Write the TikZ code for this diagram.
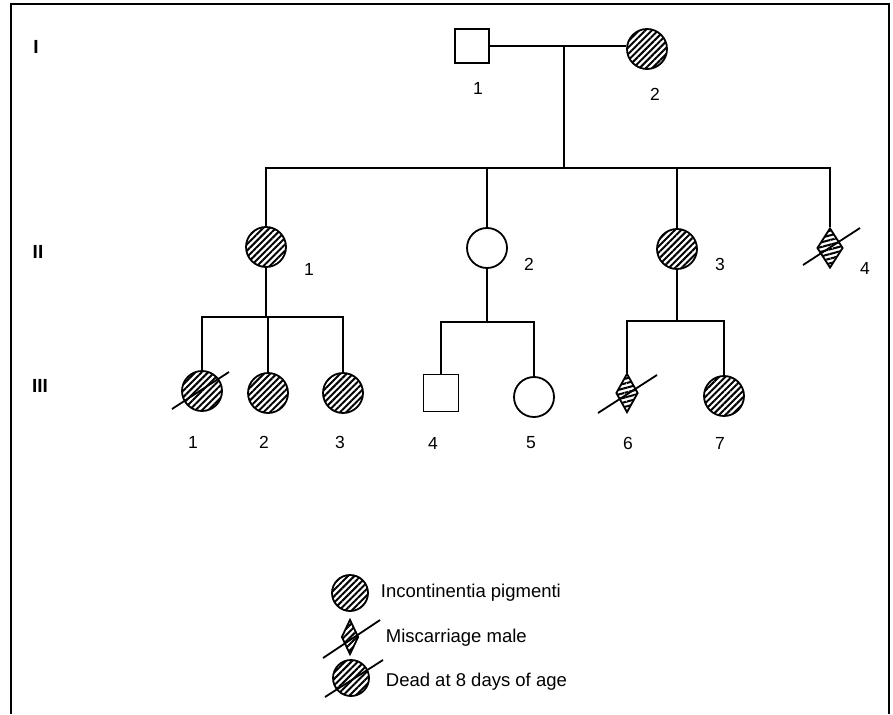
\documentclass[tikz,border=0pt]{standalone}
\usepackage{fontspec}
\setmainfont{Liberation Sans}
\usetikzlibrary{shapes.geometric,patterns.meta,calc}
\begin{document}
\begin{tikzpicture}[x=1pt,y=-1pt,
  line width=1.8pt,
  hatch/.style={pattern={Lines[angle=45,distance=4.5pt,line width=2pt]}},
  dhatch/.style={pattern={Lines[angle=15,distance=4.5pt,line width=2pt]}},
  fem/.style={circle,draw,inner sep=0pt,minimum size=40pt},
  afem/.style={fem,hatch},
  male/.style={rectangle,draw,inner sep=0pt,minimum size=34pt},
  misc/.style={diamond,draw,inner sep=0pt,dhatch},
  num/.style={inner sep=0pt,font=\fontsize{17.5}{19}\selectfont},
  gen/.style={inner sep=0pt,font=\fontsize{19}{21}\selectfont\bfseries},
  legtxt/.style={anchor=west,inner sep=0pt,font=\fontsize{18.5}{21}\selectfont}
]
\useasboundingbox (0,0) rectangle (893,714);
\draw[line width=1.6pt] (11,714) -- (11,4) -- (889,4) -- (889,714);

% generation labels
\node[gen] (gI) at (36,47) {I};
\node[gen] (gII) at (38,252) {II};
\node[gen] (gIII) at (40,386) {III};

% generation I
\node[male] (I1) at (472,46) {};
\node[afem] (I2) at (647,49) {};
\node[num] (lI1) at (478,88) {1};
\node[num] (lI2) at (655,94) {2};
\draw (I1.east) -- (I1.east -| I2.west);
\coordinate (m1) at (564,46);
\coordinate (s1) at (564,168);
\draw (m1) -- (s1);

% generation II
\node[afem] (II1) at (266,247) {};
\node[fem] (II2) at (487,248) {};
\node[afem] (II3) at (677,249) {};
\node[misc,minimum width=26pt,minimum height=40pt] (II4) at (830,248) {};
\node[num] (lII1) at (309,269) {1};
\node[num] (lII2) at (529,264) {2};
\node[num] (lII3) at (720,264) {3};
\node[num] (lII4) at (865,268) {4};
\draw (II1.north) |- (s1);
\draw (II2.north) |- (s1);
\draw (II3.north) |- (s1);
\draw (II4.north) |- (s1);
\draw ([shift={(-27,17)}]II4.center) -- ([shift={(30,-20)}]II4.center);

% generation III, sibship of II-1
\coordinate (s2) at (266,317);
\draw (II1.south) -- (s2);
\node[afem] (III1) at (202,391) {};
\node[afem] (III2) at (268,393) {};
\node[afem] (III3) at (343,393) {};
\draw (III1.north) |- (s2);
\draw (III2.north) |- (s2);
\draw (III3.north) |- (s2);
\draw ([shift={(-30,18)}]III1.center) -- ([shift={(27,-19)}]III1.center);

% sibship of II-2
\coordinate (s3) at (487,322);
\draw (II2.south) -- (s3);
\node[male,minimum width=35pt,minimum height=37pt] (III4) at (441,393) {};
\node[fem] (III5) at (534,397) {};
\draw (III4.north) |- (s3);
\draw (III5.north) |- (s3);

% sibship of II-3
\coordinate (s4) at (677,321);
\draw (II3.south) -- (s4);
\node[misc,minimum width=22pt,minimum height=39pt] (III6) at (627,393) {};
\node[afem] (III7) at (724,396) {};
\draw (III6.north) |- (s4);
\draw (III7.north) |- (s4);
\draw ([shift={(-29,20)}]III6.center) -- ([shift={(30,-18)}]III6.center);

\node[num] (lIII1) at (193,442) {1};
\node[num] (lIII2) at (264,442) {2};
\node[num] (lIII3) at (340,442) {3};
\node[num] (lIII4) at (433,443) {4};
\node[num] (lIII5) at (531,443) {5};
\node[num] (lIII6) at (628,443) {6};
\node[num] (lIII7) at (720,443) {7};

% legend
\node[afem,minimum size=36pt] (L1) at (350,593) {};
\node[legtxt] (T1) at (380,593) {Incontinentia pigmenti};
\node[diamond,draw,inner sep=0pt,hatch,minimum width=17pt,minimum height=35pt] (L2) at (350,637) {};
\draw ([shift={(-27,21)}]L2.center) -- ([shift={(30,-17)}]L2.center);
\node[legtxt] (T2) at (385,638) {Miscarriage male};
\node[afem,minimum size=36pt] (L3) at (351,678) {};
\draw ([shift={(-26,19)}]L3.center) -- ([shift={(32,-18)}]L3.center);
\node[legtxt] (T3) at (385,682) {Dead at 8 days of age};
\end{tikzpicture}
\end{document}
